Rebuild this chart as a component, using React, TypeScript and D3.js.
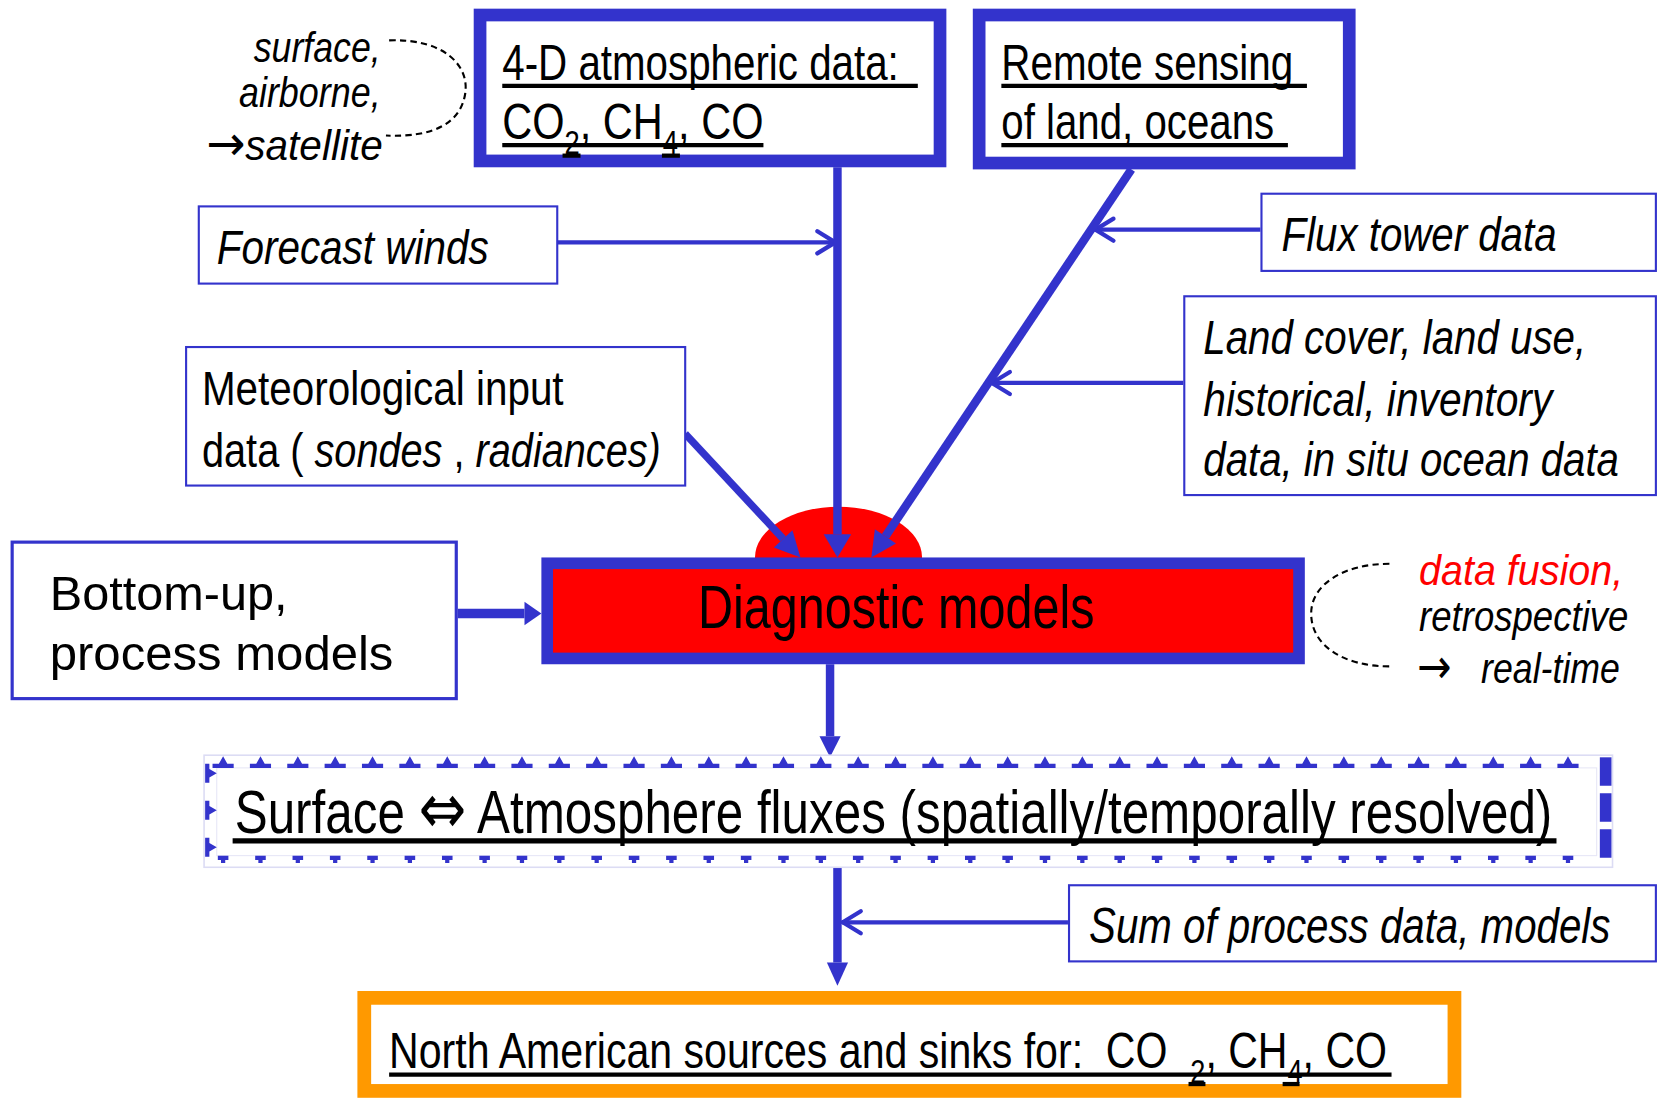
import { useEffect, useRef } from 'react';
import * as d3 from 'd3';

// colours of the original slide
const BLUE = '#3333cc';
const RED = '#ff0000';
const ORANGE = '#ff9900';
const SYMBOL_FONT = '"DejaVu Sans", sans-serif';

type Part = { t: string; i?: boolean; sub?: boolean; fill?: string; f?: string };
type Label = { x: number; y: number; w: number; size: number; parts: Part[] };

// text blocks: left x, baseline y, width the line should take, font size
const sourceLabels: Label[] = [
  { x: 240, y: 58, w: 120, size: 40, parts: [{ t: 'surface,', i: true }] },
  { x: 226, y: 101, w: 134, size: 40, parts: [{ t: 'airborne,', i: true }] },
  { x: 195, y: 151, w: 167, size: 40, parts: [{ t: '→', f: SYMBOL_FONT }, { t: 'satellite', i: true }] },
];

const topBoxLabels: Label[] = [
  { x: 475, y: 75, w: 375, size: 48, parts: [{ t: '4-D atmospheric data:' }] },
  { x: 475, y: 131, w: 247, size: 48, parts: [{ t: 'CO' }, { t: '2', sub: true }, { t: ', CH' }, { t: '4', sub: true }, { t: ', CO' }] },
  { x: 947, y: 75, w: 276, size: 48, parts: [{ t: 'Remote sensing' }] },
  { x: 947, y: 131, w: 258, size: 48, parts: [{ t: 'of land, oceans' }] },
];

const inputLabels: Label[] = [
  { x: 205, y: 249, w: 257, size: 46, parts: [{ t: 'Forecast winds', i: true }] },
  { x: 1212, y: 237, w: 260, size: 46, parts: [{ t: 'Flux tower data', i: true }] },
  { x: 1138, y: 335, w: 362, size: 46, parts: [{ t: 'Land cover, land use,', i: true }] },
  { x: 1138, y: 393, w: 330, size: 46, parts: [{ t: 'historical, inventory', i: true }] },
  { x: 1138, y: 450, w: 393, size: 46, parts: [{ t: 'data, in situ ocean data', i: true }] },
  { x: 191, y: 383, w: 342, size: 46, parts: [{ t: 'Meteorological input' }] },
  { x: 191, y: 441, w: 434, size: 46, parts: [{ t: 'data ( ' }, { t: 'sondes', i: true }, { t: ' , ' }, { t: 'radiances)', i: true }] },
  { x: 47, y: 577, w: 225, size: 46, parts: [{ t: 'Bottom-up,' }] },
  { x: 47, y: 633, w: 325, size: 46, parts: [{ t: 'process models' }] },
  { x: 1030, y: 892, w: 493, size: 48, parts: [{ t: 'Sum of process data, models', i: true }] },
];

const modelLabels: Label[] = [
  { x: 660, y: 594, w: 375, size: 58, parts: [{ t: 'Diagnostic models' }] },
  { x: 1342, y: 553, w: 193, size: 40, parts: [{ t: 'data fusion,', i: true, fill: RED }] },
  { x: 1342, y: 597, w: 198, size: 40, parts: [{ t: 'retrospective', i: true }] },
  { x: 1340, y: 646, w: 192, size: 40, parts: [{ t: '→', f: SYMBOL_FONT }, { t: '   ' }, { t: 'real-time', i: true }] },
  { x: 222, y: 788, w: 1246, size: 58, parts: [{ t: 'Surface ' }, { t: '⇔', f: SYMBOL_FONT }, { t: ' Atmosphere fluxes (spatially/temporally resolved)' }] },
  { x: 368, y: 1010, w: 944, size: 48, parts: [{ t: 'North American sources and sinks for:  CO  ' }, { t: '2', sub: true }, { t: ', CH' }, { t: '4', sub: true }, { t: ', CO' }] },
];

const underlines = [
  { x1: 475, x2: 868, y: 81, w: 4 },
  { x1: 475, x2: 722, y: 137, w: 4 },
  { x1: 532, x2: 549, y: 147, w: 4 },
  { x1: 626, x2: 643, y: 147, w: 4 },
  { x1: 947, x2: 1236, y: 81, w: 4 },
  { x1: 947, x2: 1218, y: 137, w: 4 },
  { x1: 220, x2: 1472, y: 795, w: 5 },
  { x1: 368, x2: 1316, y: 1016, w: 4 },
  { x1: 1124, x2: 1140, y: 1025, w: 4 },
  { x1: 1213, x2: 1229, y: 1025, w: 4 },
];

const boxes = [
  { x: 454, y: 14, w: 435, h: 138, sw: 12, stroke: BLUE, fill: '#fff' },
  { x: 926, y: 14, w: 350, h: 140, sw: 12, stroke: BLUE, fill: '#fff' },
  { x: 188, y: 195, w: 339, h: 73, sw: 2, stroke: BLUE, fill: '#fff' },
  { x: 1193, y: 183, w: 373, h: 73, sw: 2, stroke: BLUE, fill: '#fff' },
  { x: 1120, y: 280, w: 446, h: 188, sw: 2, stroke: BLUE, fill: '#fff' },
  { x: 176, y: 328, w: 472, h: 131, sw: 2, stroke: BLUE, fill: '#fff' },
  { x: 11.5, y: 512.5, w: 420, h: 148, sw: 3, stroke: BLUE, fill: '#fff' },
  { x: 1011, y: 837, w: 555, h: 72, sw: 2, stroke: BLUE, fill: '#fff' },
  { x: 344.5, y: 943.5, w: 1031, h: 88, sw: 13, stroke: ORANGE, fill: '#fff' },
];

const diagBox = { x: 517.5, y: 532.5, w: 711, h: 90, sw: 11 };
const fusionBlob = { cx: 793, cy: 527, rx: 79, ry: 48 };

// dashed flux frame made of little blue tick marks
const fluxFrame = { x0: 193, x1: 1525, y0: 714, y1: 820, inX0: 205, inY0: 726, inY1: 809 };
const topMarks = d3.range(37).map(k => 211 + k * 35.33);
const sideMarks = [731, 766, 801];

const arrows = [
  { x1: 527, y1: 229, x2: 790, y2: 229, sw: 4, head: 'open', len: 20, hw: 0 },
  { x1: 1192, y1: 217, x2: 1036, y2: 217, sw: 4, head: 'open', len: 20, hw: 0 },
  { x1: 1119, y1: 362, x2: 938, y2: 362, sw: 4, head: 'open', len: 20, hw: 0 },
  { x1: 1010, y1: 872, x2: 797, y2: 872, sw: 4, head: 'open', len: 20, hw: 0 },
  { x1: 792, y1: 158, x2: 792, y2: 527, sw: 8, head: 'tri', len: 22, hw: 13 },
  { x1: 1070, y1: 160, x2: 824, y2: 527, sw: 8, head: 'tri', len: 24, hw: 12 },
  { x1: 648, y1: 410, x2: 757, y2: 527, sw: 7, head: 'tri', len: 24, hw: 12 },
  { x1: 433, y1: 580, x2: 512, y2: 580, sw: 9, head: 'tri', len: 16, hw: 11 },
  { x1: 785, y1: 628, x2: 785, y2: 716, sw: 8, head: 'tri', len: 20, hw: 10 },
  { x1: 792, y1: 815, x2: 792, y2: 932, sw: 8, head: 'tri', len: 22, hw: 10 },
];

// dashed "loop" curves: start, two controls, mid, two controls, end
const loops = [
  [[368, 38], [420, 36], [444, 62], [440, 88], [436, 116], [410, 130], [365, 128]],
  [[1314, 533], [1270, 533], [1240, 553], [1240, 580], [1240, 610], [1270, 630], [1314, 630]],
];

function App() {
  const svgRef = useRef<SVGSVGElement>(null);

  useEffect(() => {
    const svg = d3.select(svgRef.current);
    svg.selectAll('*').remove();

    svg.append('rect').attr('width', 1568).attr('height', 1038).attr('fill', '#fff');

    // red blob behind the model box
    svg.append('ellipse')
      .attr('cx', fusionBlob.cx).attr('cy', fusionBlob.cy)
      .attr('rx', fusionBlob.rx).attr('ry', fusionBlob.ry)
      .attr('fill', RED);

    // arrows
    const ag = svg.append('g').attr('stroke', BLUE).attr('fill', BLUE);
    arrows.forEach(a => {
      const ang = Math.atan2(a.y2 - a.y1, a.x2 - a.x1);
      if (a.head === 'tri') {
        const bx = a.x2 - a.len * Math.cos(ang);
        const by = a.y2 - a.len * Math.sin(ang);
        ag.append('line').attr('x1', a.x1).attr('y1', a.y1).attr('x2', bx).attr('y2', by)
          .attr('stroke-width', a.sw);
        const px = -Math.sin(ang) * a.hw, py = Math.cos(ang) * a.hw;
        ag.append('path')
          .attr('d', `M${a.x2},${a.y2}L${bx + px},${by + py}L${bx - px},${by - py}Z`)
          .attr('stroke', 'none');
      } else {
        ag.append('line').attr('x1', a.x1).attr('y1', a.y1).attr('x2', a.x2).attr('y2', a.y2)
          .attr('stroke-width', a.sw);
        [-0.55, 0.55].forEach(s => {
          ag.append('line')
            .attr('x1', a.x2).attr('y1', a.y2)
            .attr('x2', a.x2 - a.len * Math.cos(ang + s))
            .attr('y2', a.y2 - a.len * Math.sin(ang + s))
            .attr('stroke-width', 4).attr('stroke-linecap', 'round');
        });
      }
    });

    // boxes
    svg.append('g').selectAll('rect').data(boxes).join('rect')
      .attr('x', d => d.x).attr('y', d => d.y).attr('width', d => d.w).attr('height', d => d.h)
      .attr('fill', d => d.fill).attr('stroke', d => d.stroke).attr('stroke-width', d => d.sw);

    svg.append('rect')
      .attr('x', diagBox.x).attr('y', diagBox.y).attr('width', diagBox.w).attr('height', diagBox.h)
      .attr('fill', RED).attr('stroke', BLUE).attr('stroke-width', diagBox.sw);

    // dashed flux frame
    const ff = fluxFrame;
    const fb = svg.append('g');
    fb.append('rect')
      .attr('x', ff.x0).attr('y', ff.y0).attr('width', ff.x1 - ff.x0).attr('height', ff.y1 - ff.y0)
      .attr('fill', '#fff').attr('stroke', '#dcdcf4').attr('stroke-width', 1.5);
    fb.append('rect')
      .attr('x', ff.inX0).attr('y', ff.inY0).attr('width', 1510 - ff.inX0).attr('height', ff.inY1 - ff.inY0)
      .attr('fill', 'none').attr('stroke', '#e6e6f6').attr('stroke-width', 1);
    fb.selectAll('path.top').data(topMarks).join('path').attr('class', 'top')
      .attr('d', x => `M${x - 10},726L${x + 10},726L${x + 10},722L${x + 4},722L${x},715L${x - 4},722L${x - 10},722Z`)
      .attr('fill', BLUE);
    fb.selectAll('path.bot').data(topMarks).join('path').attr('class', 'bot')
      .attr('d', x => `M${x - 5},809L${x + 5},809L${x + 5},813L${x + 2},813L${x + 2},816L${x - 2},816L${x - 2},813L${x - 5},813Z`)
      .attr('fill', BLUE);
    fb.selectAll('path.side').data(sideMarks).join('path').attr('class', 'side')
      .attr('d', y => `M194,${y - 9}L198,${y - 9}L198,${y - 4}L205,${y}L198,${y + 4}L198,${y + 9}L194,${y + 9}Z`)
      .attr('fill', BLUE);
    fb.append('line').attr('x1', 1518.5).attr('x2', 1518.5).attr('y1', 716).attr('y2', 814)
      .attr('stroke', BLUE).attr('stroke-width', 11).attr('stroke-dasharray', '27 7');

    // dashed loops
    loops.forEach(l => {
      const p = d3.path();
      p.moveTo(l[0][0], l[0][1]);
      p.bezierCurveTo(l[1][0], l[1][1], l[2][0], l[2][1], l[3][0], l[3][1]);
      p.bezierCurveTo(l[4][0], l[4][1], l[5][0], l[5][1], l[6][0], l[6][1]);
      svg.append('path').attr('d', p.toString()).attr('fill', 'none')
        .attr('stroke', '#000').attr('stroke-width', 2).attr('stroke-dasharray', '6 4');
    });

    // underlines
    svg.append('g').selectAll('line').data(underlines).join('line')
      .attr('x1', d => d.x1).attr('x2', d => d.x2).attr('y1', d => d.y).attr('y2', d => d.y)
      .attr('stroke', '#000').attr('stroke-width', d => d.w);

    // text, squeezed horizontally to the narrow face of the slide
    const all = [...sourceLabels, ...topBoxLabels, ...inputLabels, ...modelLabels];
    all.forEach(lb => {
      const t = svg.append('text')
        .attr('font-family', '"Liberation Sans", Arial, sans-serif')
        .attr('font-size', lb.size)
        .style('white-space', 'pre');
      let shifted = false;
      const shift = lb.size * 0.3;
      lb.parts.forEach(p => {
        const ts = t.append('tspan').text(p.t)
          .attr('font-style', p.i ? 'italic' : 'normal')
          .attr('fill', p.fill || '#000');
        if (p.f) ts.attr('font-family', p.f).attr('font-size', lb.size * 1.15);
        if (p.sub) {
          ts.attr('font-size', lb.size * 0.66);
          if (!shifted) { ts.attr('dy', shift); shifted = true; }
        } else if (shifted) {
          ts.attr('dy', -shift); shifted = false;
        }
      });
      const node = t.node() as SVGTextElement;
      const natural = node.getComputedTextLength() || lb.w;
      t.attr('transform', `translate(${lb.x},${lb.y}) scale(${lb.w / natural},1)`);
    });
  }, []);

  return (
    <svg
      ref={svgRef}
      width={1658}
      height={1098}
      viewBox="0 0 1568 1038"
      style={{ position: 'absolute', left: 0, top: 0, display: 'block' }}
    />
  );
}

export default App;
